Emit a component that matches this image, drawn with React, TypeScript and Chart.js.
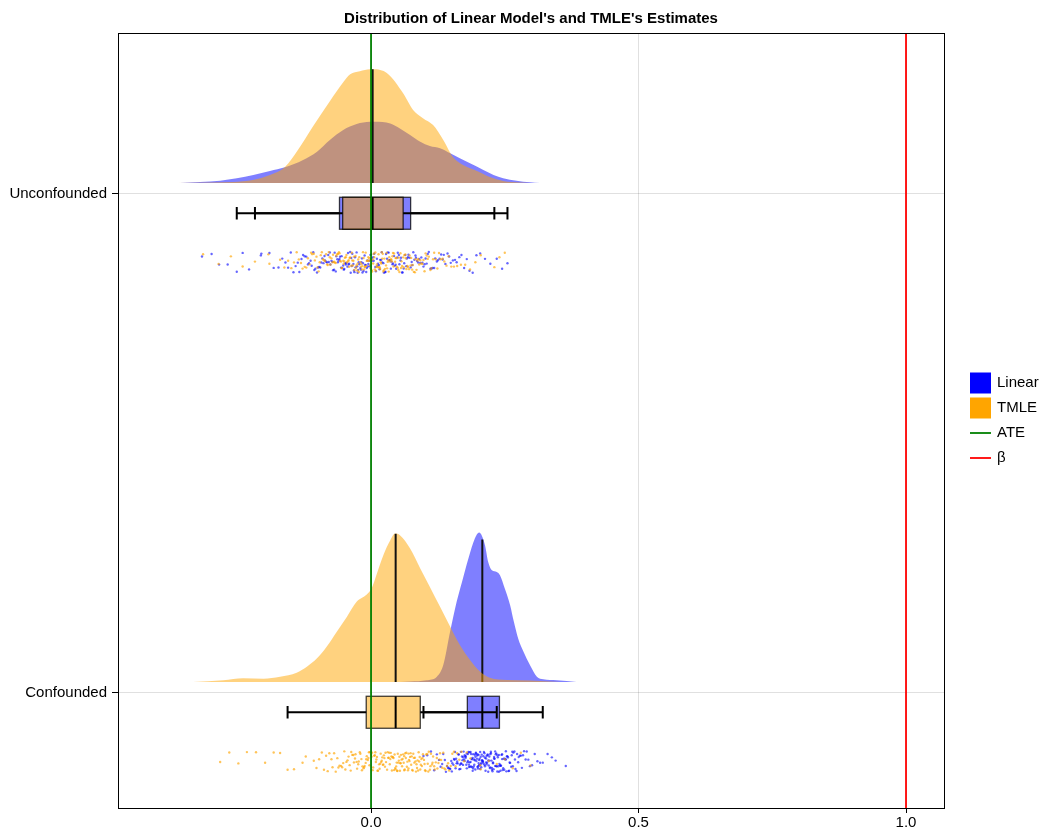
import React, { useEffect, useRef } from 'react';
import { Chart, registerables } from 'chart.js';
Chart.register(...registerables);

const TITLE = "Distribution of Linear Model's and TMLE's Estimates";
const CATEGORIES = ['Confounded', 'Unconfounded']; // y positions 1 and 2
const X_TICKS = [0, 0.5, 1.0];
const ATE = 0;
const BETA = 1;
const LEGEND_LABELS = ['Linear', 'TMLE', 'ATE', 'β'];

// ---- density curves (x = estimate, d = relative density) ----
const uncLinDensX = [-0.357, -0.282, -0.251, -0.220, -0.189, -0.161, -0.127, -0.101, -0.077, -0.052, -0.027, -0.002, 0.007, 0.036, 0.054, 0.073, 0.092, 0.110, 0.129, 0.148, 0.166, 0.185, 0.210, 0.229, 0.247, 0.272, 0.297, 0.316];
const uncLinDens = [0, 0.23, 0.47, 0.8, 1.2, 1.57, 2.3, 3.13, 4.3, 5.3, 5.9, 6.13, 6.13, 5.97, 5.47, 4.8, 4.13, 3.7, 3.47, 2.97, 2.47, 1.97, 1.3, 0.8, 0.47, 0.23, 0.07, 0];

const uncTmleDensX = [-0.363, -0.295, -0.258, -0.221, -0.189, -0.161, -0.138, -0.108, -0.077, -0.052, -0.039, -0.021, -0.002, 0.004, 0.030, 0.060, 0.079, 0.097, 0.116, 0.135, 0.153, 0.172, 0.198, 0.222, 0.247, 0.279, 0.297];
const uncTmleDens = [0, 0.05, 0.1, 0.3, 0.8, 1.6, 3.2, 5.7, 8.2, 10.1, 10.9, 11.2, 11.4, 11.4, 11.0, 9.0, 7.3, 6.5, 5.8, 4.3, 2.6, 1.8, 1.2, 0.6, 0.2, 0.04, 0];

const confLinDensX = [0.054, 0.073, 0.104, 0.123, 0.135, 0.148, 0.160, 0.170, 0.182, 0.194, 0.202, 0.213, 0.219, 0.226, 0.235, 0.241, 0.250, 0.260, 0.267, 0.275, 0.285, 0.297, 0.310, 0.322, 0.347, 0.384];
const confLinDens = [0, 0.05, 0.17, 0.53, 1.7, 5.1, 8.03, 10.03, 12.37, 14.37, 14.97, 13.7, 12.03, 11.2, 11.03, 10.7, 9.37, 7.7, 6.03, 4.37, 3.03, 1.7, 0.53, 0.27, 0.17, 0];

const confTmleDensX = [-0.333, -0.276, -0.239, -0.201, -0.170, -0.139, -0.120, -0.101, -0.083, -0.064, -0.045, -0.027, -0.008, 0.001, 0.011, 0.023, 0.036, 0.045, 0.054, 0.073, 0.092, 0.110, 0.129, 0.148, 0.166, 0.185, 0.204, 0.222, 0.254, 0.297, 0.353];
const confTmleDens = [0, 0.17, 0.37, 0.33, 0.53, 0.93, 1.53, 2.37, 3.53, 5.03, 6.53, 8.03, 8.77, 9.37, 10.87, 12.7, 14.2, 14.87, 14.7, 13.37, 11.37, 9.53, 7.53, 5.53, 3.7, 2.2, 1.03, 0.43, 0.2, 0.15, 0];

// ---- box statistics: [lower whisker, q1, median, q3, upper whisker] ----
const uncLinBox = [-0.251, -0.059, 0.001, 0.074, 0.255];
const uncTmleBox = [-0.217, -0.053, 0.003, 0.060, 0.2305];
const confLinBox = [0.098, 0.180, 0.208, 0.240, 0.321];
const confTmleBox = [-0.156, -0.009, 0.046, 0.092, 0.235];

// ---- individual estimates (raincloud dots) ----
const uncLinEst = [-0.316, -0.284, -0.251, -0.228, -0.205, -0.190, -0.173, -0.160, -0.150, -0.141, -0.134, -0.127, -0.121, -0.116, -0.111, -0.106, -0.101, -0.097, -0.093, -0.089, -0.086, -0.082, -0.079, -0.076, -0.072, -0.069, -0.066, -0.063, -0.060, -0.058, -0.055, -0.052, -0.050, -0.047, -0.044, -0.042, -0.039, -0.037, -0.035, -0.032, -0.030, -0.027, -0.025, -0.023, -0.020, -0.018, -0.016, -0.014, -0.011, -0.009, -0.007, -0.005, -0.002, 0.000,
  0.002, 0.005, 0.008, 0.011, 0.013, 0.016, 0.019, 0.021, 0.024, 0.027, 0.030, 0.033, 0.035, 0.038, 0.041, 0.044, 0.047, 0.050, 0.053, 0.056, 0.059, 0.062, 0.066, 0.069, 0.072, 0.076, 0.079, 0.083, 0.086, 0.090, 0.094, 0.098, 0.102, 0.106, 0.111, 0.115, 0.120, 0.125, 0.131, 0.136, 0.143, 0.149, 0.157, 0.165, 0.174, 0.184, 0.197, 0.213, 0.235, 0.255];
const uncLinEst2 = [-0.298, -0.268, -0.240, -0.206, -0.182, -0.166, -0.155, -0.145, -0.137, -0.130, -0.124, -0.118, -0.113, -0.108, -0.104, -0.099, -0.095, -0.091, -0.087, -0.084, -0.080, -0.077, -0.074, -0.071, -0.068, -0.065, -0.062, -0.059, -0.056, -0.054, -0.051, -0.048, -0.046, -0.043, -0.041, -0.038, -0.036, -0.033, -0.031, -0.029, -0.026, -0.024, -0.022, -0.019, -0.017, -0.015, -0.012, -0.010, -0.008, -0.006, -0.003, -0.001, 0.001,
  0.004, 0.006, 0.009, 0.012, 0.015, 0.017, 0.020, 0.023, 0.026, 0.028, 0.031, 0.034, 0.037, 0.040, 0.043, 0.046, 0.049, 0.052, 0.055, 0.058, 0.061, 0.064, 0.067, 0.070, 0.074, 0.077, 0.081, 0.084, 0.088, 0.092, 0.096, 0.100, 0.104, 0.108, 0.113, 0.118, 0.123, 0.128, 0.134, 0.139, 0.146, 0.153, 0.160, 0.169, 0.179, 0.190, 0.204, 0.223, 0.245];
const uncTmleEst = [-0.314, -0.262, -0.217, -0.190, -0.162, -0.149, -0.139, -0.131, -0.124, -0.118, -0.112, -0.107, -0.102, -0.098, -0.094, -0.090, -0.086, -0.082, -0.079, -0.076, -0.072, -0.069, -0.066, -0.063, -0.060, -0.058, -0.055, -0.052, -0.050, -0.047, -0.045, -0.042, -0.040, -0.037, -0.035, -0.033, -0.031, -0.028, -0.026, -0.024, -0.022, -0.019, -0.017, -0.015, -0.013, -0.011, -0.009, -0.006, -0.004, -0.002, 0.000, 0.002,
  0.004, 0.006, 0.008, 0.010, 0.012, 0.015, 0.017, 0.019, 0.021, 0.023, 0.025, 0.028, 0.030, 0.032, 0.034, 0.037, 0.039, 0.041, 0.043, 0.046, 0.048, 0.051, 0.053, 0.056, 0.058, 0.061, 0.064, 0.066, 0.069, 0.072, 0.075, 0.078, 0.082, 0.085, 0.088, 0.092, 0.096, 0.100, 0.104, 0.108, 0.113, 0.118, 0.124, 0.130, 0.137, 0.145, 0.155, 0.168, 0.185, 0.205, 0.2305, 0.250];
const uncTmleEst2 = [-0.285, -0.240, -0.192, -0.170, -0.155, -0.144, -0.135, -0.128, -0.121, -0.115, -0.110, -0.105, -0.100, -0.096, -0.092, -0.088, -0.084, -0.081, -0.077, -0.074, -0.071, -0.068, -0.065, -0.062, -0.059, -0.056, -0.054, -0.051, -0.049, -0.046, -0.043, -0.041, -0.039, -0.036, -0.034, -0.032, -0.029, -0.027, -0.025, -0.023, -0.020, -0.018, -0.016, -0.014, -0.012, -0.010, -0.008, -0.005, -0.003, -0.001, 0.001, 0.003,
  0.005, 0.007, 0.009, 0.011, 0.014, 0.016, 0.018, 0.020, 0.022, 0.024, 0.026, 0.029, 0.031, 0.033, 0.035, 0.038, 0.040, 0.042, 0.045, 0.047, 0.050, 0.052, 0.055, 0.057, 0.060, 0.062, 0.065, 0.068, 0.071, 0.074, 0.077, 0.080, 0.083, 0.087, 0.090, 0.094, 0.098, 0.102, 0.106, 0.111, 0.116, 0.121, 0.127, 0.134, 0.141, 0.150, 0.161, 0.176, 0.195, 0.240];
const confLinEst = [0.098, 0.118, 0.127, 0.133, 0.138, 0.142, 0.145, 0.148, 0.151, 0.154, 0.156, 0.158, 0.160, 0.162, 0.164, 0.166, 0.168, 0.169, 0.171, 0.172, 0.174, 0.175, 0.177, 0.178, 0.179, 0.181, 0.182, 0.183, 0.184, 0.186, 0.187, 0.188, 0.189, 0.190, 0.191, 0.193, 0.194, 0.195, 0.196, 0.197, 0.198, 0.199, 0.200, 0.201, 0.202, 0.203, 0.204, 0.205, 0.206, 0.207,
  0.209, 0.210, 0.211, 0.212, 0.213, 0.215, 0.216, 0.217, 0.218, 0.219, 0.221, 0.222, 0.223, 0.224, 0.226, 0.227, 0.228, 0.230, 0.231, 0.232, 0.234, 0.235, 0.236, 0.238, 0.239, 0.241, 0.242, 0.244, 0.245, 0.247, 0.249, 0.251, 0.252, 0.254, 0.256, 0.258, 0.260, 0.263, 0.265, 0.268, 0.270, 0.273, 0.276, 0.280, 0.284, 0.289, 0.294, 0.301, 0.311, 0.321, 0.338, 0.364];
const confLinEst2 = [0.105, 0.112, 0.123, 0.130, 0.135, 0.140, 0.144, 0.147, 0.150, 0.152, 0.155, 0.157, 0.159, 0.161, 0.163, 0.165, 0.167, 0.168, 0.170, 0.172, 0.173, 0.175, 0.176, 0.177, 0.179, 0.180, 0.181, 0.183, 0.184, 0.185, 0.186, 0.187, 0.189, 0.190, 0.191, 0.192, 0.193, 0.194, 0.195, 0.196, 0.198, 0.199, 0.200, 0.201, 0.202, 0.203, 0.204, 0.205, 0.206, 0.207, 0.208,
  0.209, 0.210, 0.212, 0.213, 0.214, 0.215, 0.216, 0.218, 0.219, 0.220, 0.221, 0.223, 0.224, 0.225, 0.226, 0.228, 0.229, 0.230, 0.232, 0.233, 0.234, 0.236, 0.237, 0.239, 0.240, 0.242, 0.243, 0.245, 0.246, 0.248, 0.250, 0.252, 0.253, 0.255, 0.257, 0.259, 0.262, 0.264, 0.266, 0.269, 0.272, 0.275, 0.278, 0.282, 0.286, 0.291, 0.297, 0.306, 0.316, 0.330, 0.345];
const confTmleEst = [-0.282, -0.248, -0.215, -0.156, -0.128, -0.102, -0.092, -0.084, -0.078, -0.072, -0.066, -0.061, -0.056, -0.052, -0.048, -0.044, -0.040, -0.037, -0.033, -0.030, -0.027, -0.024, -0.021, -0.018, -0.016, -0.013, -0.010, -0.008, -0.005, -0.003, 0.000, 0.002, 0.004, 0.007, 0.009, 0.011, 0.013, 0.016, 0.018, 0.020, 0.022, 0.024, 0.026, 0.028, 0.031, 0.033, 0.035, 0.037, 0.039, 0.041, 0.043, 0.045,
  0.047, 0.049, 0.050, 0.052, 0.054, 0.055, 0.057, 0.059, 0.061, 0.062, 0.064, 0.066, 0.068, 0.070, 0.071, 0.073, 0.075, 0.077, 0.079, 0.081, 0.083, 0.085, 0.087, 0.089, 0.091, 0.093, 0.095, 0.097, 0.100, 0.102, 0.105, 0.107, 0.110, 0.112, 0.115, 0.118, 0.121, 0.124, 0.128, 0.131, 0.135, 0.139, 0.144, 0.149, 0.155, 0.161, 0.169, 0.179, 0.205, 0.235, 0.265, 0.298];
const confTmleEst2 = [-0.265, -0.232, -0.198, -0.182, -0.170, -0.144, -0.122, -0.107, -0.097, -0.088, -0.081, -0.074, -0.069, -0.063, -0.059, -0.054, -0.050, -0.046, -0.042, -0.038, -0.035, -0.032, -0.029, -0.026, -0.023, -0.020, -0.017, -0.014, -0.012, -0.009, -0.006, -0.004, -0.002, 0.001, 0.003, 0.006, 0.008, 0.010, 0.012, 0.015, 0.017, 0.019, 0.021, 0.023, 0.025, 0.027, 0.030, 0.032, 0.034, 0.036, 0.038, 0.040, 0.042, 0.044, 0.046,
  0.048, 0.049, 0.051, 0.053, 0.055, 0.056, 0.058, 0.060, 0.062, 0.063, 0.065, 0.067, 0.069, 0.070, 0.072, 0.074, 0.076, 0.078, 0.080, 0.082, 0.084, 0.086, 0.088, 0.090, 0.092, 0.094, 0.096, 0.099, 0.101, 0.103, 0.106, 0.108, 0.111, 0.114, 0.116, 0.119, 0.123, 0.126, 0.129, 0.133, 0.137, 0.142, 0.146, 0.152, 0.158, 0.165, 0.174, 0.186, 0.204, 0.220, 0.250, 0.280];

// ---- styling / layout constants ----
const BLUE = '#0000ff';
const ORANGE = '#ffa500';
const BLUE_A = 'rgba(0,0,255,0.5)';
const ORANGE_A = 'rgba(255,165,0,0.5)';
const FONT = "'Liberation Sans', Arial, Helvetica, sans-serif";
const DENS_BASE = 0.022;
const DENS_SCALE = 0.02;
const BOX_TOP = -0.0066;
const BOX_BOTTOM = -0.0707;
const WHISK = -0.0387;
const CAP = 0.0126;
const DOT_CENTER = -0.1373;
const DOT_SPREAD = 0.021;

type Group = { cat: number; fill: string; dot: string; dx: number[]; d: number[]; box: number[]; est: number[] };

// draw order: linear then TMLE within each category
const GROUPS: Group[] = [
  { cat: 2, fill: BLUE_A, dot: 'rgba(0,0,255,0.6)', dx: uncLinDensX, d: uncLinDens, box: uncLinBox, est: [...uncLinEst, ...uncLinEst2] },
  { cat: 2, fill: ORANGE_A, dot: 'rgba(255,165,0,0.65)', dx: uncTmleDensX, d: uncTmleDens, box: uncTmleBox, est: [...uncTmleEst, ...uncTmleEst2] },
  { cat: 1, fill: BLUE_A, dot: 'rgba(0,0,255,0.6)', dx: confLinDensX, d: confLinDens, box: confLinBox, est: [...confLinEst, ...confLinEst2] },
  { cat: 1, fill: ORANGE_A, dot: 'rgba(255,165,0,0.65)', dx: confTmleDensX, d: confTmleDens, box: confTmleBox, est: [...confTmleEst, ...confTmleEst2] },
];

function densAt(xs: number[], ds: number[], v: number) {
  for (let i = 0; i < xs.length - 1; i++) {
    if (v >= xs[i] && v <= xs[i + 1]) {
      const t = (v - xs[i]) / (xs[i + 1] - xs[i]);
      return ds[i] + t * (ds[i + 1] - ds[i]);
    }
  }
  return 0;
}

// deterministic jitter in [0,1) (position only, not data)
function jitter(i: number, k: number) {
  let h = (Math.imul(i + 1, 374761393) + Math.imul(k + 7, 668265263)) | 0;
  h = Math.imul(h ^ (h >>> 13), 1274126177);
  h = h ^ (h >>> 16);
  return (h >>> 0) / 4294967296;
}

const Y_MIN = 0.7695;
const Y_MAX = 2.3226;

const boxPlugin = {
  id: 'boxes',
  beforeDatasetsDraw(chart: any) {
    const { ctx, scales } = chart;
    const xs = scales.x;
    const ys = scales.y;
    ctx.save();
    GROUPS.forEach((g) => {
      const [lo, q1, med, q3, hi] = g.box;
      const top = ys.getPixelForValue(g.cat + BOX_TOP);
      const bot = ys.getPixelForValue(g.cat + BOX_BOTTOM);
      const wy = ys.getPixelForValue(g.cat + WHISK);
      const capH = Math.abs(ys.getPixelForValue(g.cat + CAP) - ys.getPixelForValue(g.cat));
      const pq1 = xs.getPixelForValue(q1);
      const pq3 = xs.getPixelForValue(q3);
      ctx.fillStyle = g.fill;
      ctx.fillRect(pq1, top, pq3 - pq1, bot - top);
      ctx.strokeStyle = 'rgba(0,0,0,0.75)';
      ctx.lineWidth = 1.3;
      ctx.strokeRect(pq1, top, pq3 - pq1, bot - top);
      ctx.strokeStyle = '#000';
      ctx.lineWidth = 2;
      ctx.beginPath();
      const plo = xs.getPixelForValue(lo);
      const phi = xs.getPixelForValue(hi);
      ctx.moveTo(plo, wy); ctx.lineTo(pq1, wy);
      ctx.moveTo(pq3, wy); ctx.lineTo(phi, wy);
      ctx.moveTo(plo, wy - capH); ctx.lineTo(plo, wy + capH);
      ctx.moveTo(phi, wy - capH); ctx.lineTo(phi, wy + capH);
      const pm = xs.getPixelForValue(med);
      ctx.moveTo(pm, top); ctx.lineTo(pm, bot);
      ctx.stroke();
    });
    ctx.restore();
  },
  afterDraw(chart: any) {
    const { ctx, chartArea } = chart;
    ctx.save();
    // frame
    ctx.strokeStyle = '#000';
    ctx.lineWidth = 1;
    ctx.strokeRect(Math.round(chartArea.left) + 0.5, Math.round(chartArea.top) + 0.5,
      Math.round(chartArea.right - chartArea.left), Math.round(chartArea.bottom - chartArea.top));
    // title, centred over the plot area
    ctx.fillStyle = '#000';
    ctx.font = `bold 15px ${FONT}`;
    ctx.textAlign = 'center';
    ctx.textBaseline = 'middle';
    ctx.fillText(TITLE, (chartArea.left + chartArea.right) / 2, chartArea.top - 14);
    // legend
    const colors = [BLUE, ORANGE, 'green', 'red'];
    const x0 = chartArea.right + 26;
    const cy = (chartArea.top + chartArea.bottom) / 2;
    LEGEND_LABELS.forEach((lab, i) => {
      const y = cy + (i - (LEGEND_LABELS.length - 1) / 2) * 25;
      if (i < 2) {
        ctx.fillStyle = colors[i];
        ctx.fillRect(x0, y - 10.5, 21, 21);
      } else {
        ctx.strokeStyle = colors[i];
        ctx.lineWidth = 1.8;
        ctx.beginPath();
        ctx.moveTo(x0, y); ctx.lineTo(x0 + 21, y);
        ctx.stroke();
      }
      ctx.fillStyle = '#000';
      ctx.font = `15px ${FONT}`;
      ctx.textBaseline = 'middle';
      ctx.textAlign = 'left';
      ctx.fillText(lab, x0 + 27, y);
    });
    ctx.restore();
  },
};

export default function App() {
  const ref = useRef<HTMLCanvasElement | null>(null);
  useEffect(() => {
    if (!ref.current) return;
    Chart.defaults.font.family = FONT;
    Chart.defaults.color = '#000';
    const datasets: any[] = [];
    let order = 100;
    GROUPS.forEach((g) => {
      const base = g.cat + DENS_BASE;
      datasets.push({
        type: 'line',
        data: g.dx.map((x, i) => ({ x, y: base + g.d[i] * DENS_SCALE })),
        fill: { value: base },
        backgroundColor: g.fill,
        borderColor: 'rgba(0,0,0,0)',
        borderWidth: 0,
        pointRadius: 0,
        cubicInterpolationMode: 'monotone',
        order: order--,
      });
      const med = g.box[2];
      datasets.push({
        type: 'line',
        data: [{ x: med, y: base }, { x: med, y: base + densAt(g.dx, g.d, med) * DENS_SCALE }],
        borderColor: '#111',
        borderWidth: 2,
        pointRadius: 0,
        fill: false,
        order: order--,
      });
    });
    GROUPS.forEach((g, k) => {
      datasets.push({
        type: 'scatter',
        data: g.est.map((x, i) => ({ x, y: g.cat + DOT_CENTER + (2 * jitter(i, k) - 1) * DOT_SPREAD })),
        backgroundColor: g.dot,
        borderWidth: 0,
        pointRadius: 1.2,
        order: order--,
      });
    });
    datasets.push({
      type: 'line',
      data: [{ x: BETA, y: Y_MIN }, { x: BETA, y: Y_MAX }],
      borderColor: 'red', borderWidth: 1.8, pointRadius: 0, fill: false, order: 2,
    });
    datasets.push({
      type: 'line',
      data: [{ x: ATE, y: Y_MIN }, { x: ATE, y: Y_MAX }],
      borderColor: 'green', borderWidth: 1.8, pointRadius: 0, fill: false, order: 1,
    });

    const chart = new Chart(ref.current, {
      type: 'scatter',
      data: { datasets },
      plugins: [boxPlugin],
      options: {
        animation: false,
        responsive: false,
        devicePixelRatio: 1,
        events: [],
        layout: { padding: { left: 0, right: 96, top: 33, bottom: 0 } },
        plugins: {
          legend: { display: false },
          tooltip: { enabled: false },
          title: { display: false },
        },
        scales: {
          x: {
            type: 'linear',
            min: -0.473,
            max: 1.071,
            afterBuildTicks: (s: any) => { s.ticks = X_TICKS.map((v) => ({ value: v })); },
            afterFit: (s: any) => { s.height = 24; },
            ticks: {
              callback: (v: any) => Number(v).toFixed(1),
              font: { size: 15 },
              color: '#000',
              padding: 1,
              maxRotation: 0,
              autoSkip: false,
            },
            grid: { color: 'rgba(0,0,0,0.12)', tickColor: '#000', tickLength: 5, lineWidth: 1 },
            border: { display: false },
          },
          y: {
            type: 'linear',
            min: Y_MIN,
            max: Y_MAX,
            afterBuildTicks: (s: any) => { s.ticks = CATEGORIES.map((_, i) => ({ value: i + 1 })); },
            afterFit: (s: any) => { s.width = 118; },
            ticks: {
              callback: (v: any) => CATEGORIES[Math.round(Number(v)) - 1],
              font: { size: 15 },
              color: '#000',
              padding: 5,
              autoSkip: false,
            },
            grid: { color: 'rgba(0,0,0,0.12)', tickColor: '#000', tickLength: 6, lineWidth: 1 },
            border: { display: false },
          },
        },
      } as any,
    });
    return () => chart.destroy();
  }, []);
  return (
    <div style={{ position: 'absolute', left: 0, top: 0, width: 1040, height: 832 }}>
      <canvas ref={ref} width={1040} height={832} />
    </div>
  );
}
